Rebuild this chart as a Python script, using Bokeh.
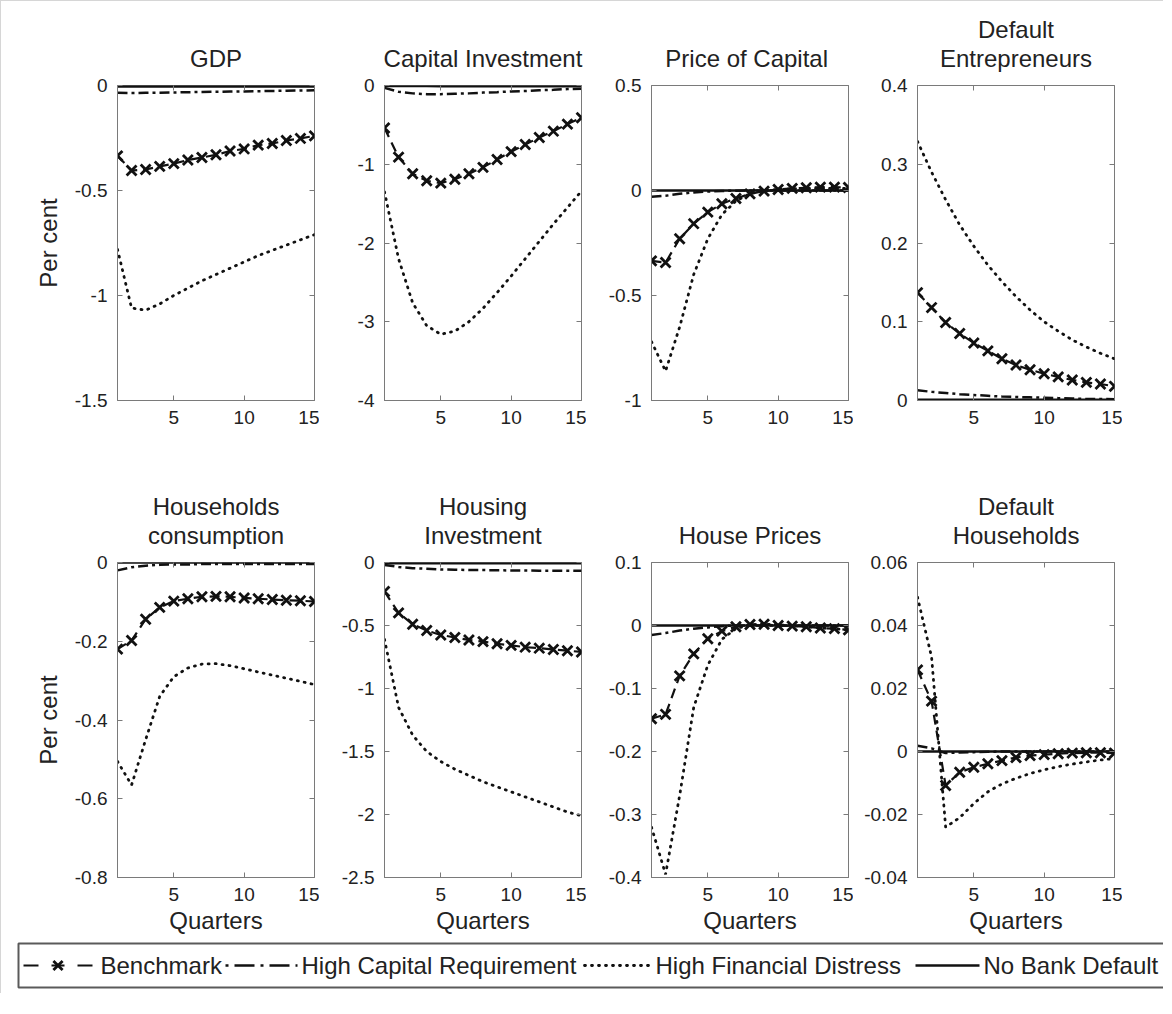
from bokeh.plotting import figure
from bokeh.models import (Range1d, FixedTicker, CustomJSTickFormatter, LinearAxis,
                          Title, ColumnDataSource)
from bokeh.layouts import column, row
from bokeh.embed import file_html
from bokeh.resources import INLINE
from bokeh.core.properties import value

# ---------------- data ----------------
quarters = [1, 2, 3, 4, 5, 6, 7, 8, 9, 10, 11, 12, 13, 14, 15]
series_names = ["Benchmark", "High Capital Requirement", "High Financial Distress", "No Bank Default"]
x_ticks = [5, 10, 15]

# GDP
gdp_bm = [-0.335, -0.405, -0.40, -0.385, -0.372, -0.355, -0.343, -0.33, -0.312, -0.302, -0.284, -0.276, -0.262, -0.252, -0.24]
gdp_hcr = [-0.035, -0.036, -0.035, -0.034, -0.033, -0.032, -0.031, -0.030, -0.029, -0.028, -0.027, -0.026, -0.025, -0.024, -0.023]
gdp_hfd = [-0.78, -1.06, -1.07, -1.04, -1.0, -0.965, -0.93, -0.9, -0.87, -0.84, -0.81, -0.785, -0.76, -0.735, -0.71]
gdp_nbd = [-0.004, -0.004, -0.004, -0.004, -0.004, -0.004, -0.004, -0.004, -0.004, -0.004, -0.004, -0.004, -0.004, -0.004, -0.004]

# Capital Investment
ci_bm = [-0.54, -0.91, -1.12, -1.21, -1.24, -1.19, -1.12, -1.04, -0.94, -0.84, -0.75, -0.66, -0.58, -0.49, -0.41]
ci_hcr = [-0.03, -0.08, -0.10, -0.11, -0.11, -0.105, -0.10, -0.09, -0.085, -0.075, -0.07, -0.06, -0.055, -0.045, -0.04]
ci_hfd = [-1.35, -2.2, -2.76, -3.05, -3.16, -3.12, -3.0, -2.83, -2.63, -2.42, -2.2, -1.98, -1.76, -1.55, -1.34]
ci_nbd = [-0.005, -0.006, -0.007, -0.007, -0.008, -0.008, -0.008, -0.009, -0.009, -0.009, -0.01, -0.01, -0.01, -0.01, -0.01]

# Price of Capital
pk_bm = [-0.335, -0.343, -0.23, -0.158, -0.103, -0.063, -0.038, -0.016, -0.003, 0.005, 0.01, 0.013, 0.016, 0.016, 0.014]
pk_hcr = [-0.03, -0.025, -0.016, -0.009, -0.005, -0.002, -0.001, 0.0, 0.0, 0.0, 0.0, 0.0, 0.0, 0.0, 0.0]
pk_hfd = [-0.72, -0.86, -0.65, -0.40, -0.23, -0.115, -0.05, -0.015, 0.0, 0.005, 0.008, 0.01, 0.01, 0.01, 0.01]
pk_nbd = [0.0, 0.0, 0.0, 0.0, 0.0, 0.0, 0.0, 0.0, 0.0, 0.0, 0.0, 0.0, 0.0, 0.0, 0.0]

# Default Entrepreneurs
de_bm = [0.137, 0.118, 0.099, 0.085, 0.073, 0.063, 0.053, 0.045, 0.039, 0.034, 0.030, 0.026, 0.023, 0.021, 0.018]
de_hcr = [0.013, 0.011, 0.0095, 0.008, 0.007, 0.006, 0.005, 0.0045, 0.004, 0.0035, 0.003, 0.0025, 0.002, 0.002, 0.0015]
de_hfd = [0.329, 0.29, 0.255, 0.223, 0.196, 0.172, 0.151, 0.132, 0.115, 0.1, 0.088, 0.077, 0.068, 0.06, 0.053]
de_nbd = [0.001, 0.001, 0.001, 0.001, 0.001, 0.001, 0.001, 0.001, 0.001, 0.001, 0.001, 0.001, 0.001, 0.001, 0.001]

# Households consumption
hc_bm = [-0.22, -0.198, -0.144, -0.114, -0.098, -0.092, -0.087, -0.086, -0.087, -0.09, -0.092, -0.094, -0.096, -0.097, -0.099]
hc_hcr = [-0.02, -0.012, -0.008, -0.006, -0.005, -0.005, -0.004, -0.004, -0.004, -0.004, -0.004, -0.004, -0.004, -0.004, -0.004]
hc_hfd = [-0.505, -0.565, -0.45, -0.34, -0.29, -0.268, -0.258, -0.257, -0.262, -0.27, -0.278, -0.286, -0.294, -0.302, -0.31]
hc_nbd = [0.0, 0.0, 0.0, 0.0, 0.0, 0.0, 0.0, 0.0, 0.0, 0.0, 0.0, 0.0, 0.0, 0.0, 0.0]

# Housing Investment
hi_bm = [-0.23, -0.40, -0.49, -0.54, -0.575, -0.595, -0.615, -0.628, -0.645, -0.658, -0.672, -0.68, -0.69, -0.70, -0.71]
hi_hcr = [-0.02, -0.035, -0.045, -0.05, -0.055, -0.057, -0.06, -0.06, -0.062, -0.063, -0.064, -0.065, -0.065, -0.066, -0.066]
hi_hfd = [-0.61, -1.15, -1.37, -1.5, -1.58, -1.64, -1.69, -1.74, -1.78, -1.82, -1.86, -1.9, -1.94, -1.98, -2.01]
hi_nbd = [-0.005, -0.005, -0.005, -0.005, -0.005, -0.005, -0.005, -0.005, -0.005, -0.005, -0.005, -0.005, -0.005, -0.005, -0.005]

# House Prices
hp_bm = [-0.148, -0.141, -0.08, -0.045, -0.021, -0.009, -0.002, 0.0015, 0.002, 0.0, -0.001, -0.002, -0.004, -0.005, -0.007]
hp_hcr = [-0.015, -0.012, -0.008, -0.005, -0.003, -0.001, 0.0, 0.0, 0.0, 0.0, 0.0, 0.0, 0.0, 0.0, 0.0]
hp_hfd = [-0.32, -0.395, -0.27, -0.13, -0.063, -0.022, -0.005, 0.001, 0.002, 0.001, 0.0, -0.002, -0.004, -0.005, -0.007]
hp_nbd = [0.0, 0.0, 0.0, 0.0, 0.0, 0.0, 0.0, 0.0, 0.0, 0.0, 0.0, 0.0, 0.0, 0.0, 0.0]

# Default Households
dh_bm = [0.0259, 0.016, -0.0108, -0.0066, -0.005, -0.0039, -0.0029, -0.0019, -0.0013, -0.001, -0.0007, -0.0005, -0.0004, -0.0004, -0.0005]
dh_hcr = [0.0018, 0.001, -0.0005, -0.0003, -0.0002, -0.0001, 0.0, 0.0, 0.0, 0.0, 0.0, 0.0, 0.0, 0.0, 0.0]
dh_hfd = [0.049, 0.03, -0.024, -0.021, -0.0165, -0.0128, -0.0103, -0.0085, -0.007, -0.0058, -0.0048, -0.004, -0.0033, -0.0027, -0.0022]
dh_nbd = [0.0, 0.0, 0.0, 0.0, 0.0, 0.0, 0.0, 0.0, 0.0, 0.0, 0.0, 0.0, 0.0, 0.0, 0.0]

panel_titles = [["GDP"], ["Capital Investment"], ["Price of  Capital"], ["Default", "Entrepreneurs"],
                ["Households", "consumption"], ["Housing", "Investment"], ["House Prices"], ["Default", "Households"]]
y_limits = [(-1.5, 0), (-4, 0), (-1, 0.5), (0, 0.4), (-0.8, 0), (-2.5, 0), (-0.4, 0.1), (-0.04, 0.06)]
y_ticks = [[-1.5, -1, -0.5, 0], [-4, -3, -2, -1, 0], [-1, -0.5, 0, 0.5], [0, 0.1, 0.2, 0.3, 0.4],
           [-0.8, -0.6, -0.4, -0.2, 0], [-2.5, -2, -1.5, -1, -0.5, 0], [-0.4, -0.3, -0.2, -0.1, 0, 0.1],
           [-0.04, -0.02, 0, 0.02, 0.04, 0.06]]
panel_data = [(gdp_bm, gdp_hcr, gdp_hfd, gdp_nbd), (ci_bm, ci_hcr, ci_hfd, ci_nbd),
              (pk_bm, pk_hcr, pk_hfd, pk_nbd), (de_bm, de_hcr, de_hfd, de_nbd),
              (hc_bm, hc_hcr, hc_hfd, hc_nbd), (hi_bm, hi_hcr, hi_hfd, hi_nbd),
              (hp_bm, hp_hcr, hp_hfd, hp_nbd), (dh_bm, dh_hcr, dh_hfd, dh_nbd)]

# ---------------- styling ----------------
FONT = "Liberation Sans"
INK = "#111111"
TXT = "#222222"
FRAME = "#7a7a7a"
STYLES = [dict(line_dash="10 6", line_width=2.2),
          dict(line_dash="10 4 3 4", line_width=2.5),
          dict(line_dash="1 6", line_width=2.8, line_cap="round"),
          dict(line_dash="solid", line_width=2.6)]

fmt = CustomJSTickFormatter(code="return String(+tick.toFixed(6));")

FRAME_W, FRAME_H = 197, 315
LEFT_B = [116, 65, 65, 64]
RIGHT_B = [5, 5, 5, 8]


def style_axis(ax, ticks, show_labels=True):
    ax.ticker = FixedTicker(ticks=ticks)
    ax.axis_line_color = FRAME
    ax.major_tick_line_color = FRAME
    ax.major_tick_in = 5
    ax.major_tick_out = 0
    ax.minor_tick_line_color = None
    if show_labels:
        ax.major_label_text_font = FONT
        ax.major_label_text_font_size = "19px"
        ax.major_label_text_color = TXT
        ax.major_label_standoff = 10
    else:
        ax.major_label_text_font_size = "0px"
        ax.major_label_text_color = None
        ax.major_label_standoff = 0
        ax.axis_line_color = None


def make_panel(i):
    col, rw = i % 4, i // 4
    lo, hi = y_limits[i]
    p = figure(frame_width=FRAME_W, frame_height=FRAME_H, x_range=Range1d(1, 15), y_range=Range1d(lo, hi),
               output_backend="svg", toolbar_location=None, title=None,
               min_border_left=LEFT_B[col], min_border_right=RIGHT_B[col],
               min_border_top=84 if rw == 0 else 122, min_border_bottom=40 if rw == 0 else 62)
    p.outline_line_color = FRAME
    p.outline_line_width = 1
    p.xgrid.visible = False
    p.ygrid.visible = False
    p.background_fill_color = "white"
    p.border_fill_color = "white"
    style_axis(p.xaxis[0], x_ticks)
    style_axis(p.yaxis[0], y_ticks[i])
    p.yaxis[0].formatter = fmt
    if col == 0:
        p.yaxis[0].axis_label = "Per cent"
        p.yaxis[0].axis_label_text_font = FONT
        p.yaxis[0].axis_label_text_font_size = "24px"
        p.yaxis[0].axis_label_text_font_style = "normal"
        p.yaxis[0].axis_label_text_color = TXT
        p.yaxis[0].axis_label_standoff = 10
    if rw == 1:
        p.xaxis[0].axis_label = "Quarters"
        p.xaxis[0].axis_label_text_font = FONT
        p.xaxis[0].axis_label_text_font_size = "24px"
        p.xaxis[0].axis_label_text_font_style = "normal"
        p.xaxis[0].axis_label_text_color = TXT
        p.xaxis[0].axis_label_standoff = 3
    top_ax = LinearAxis()
    style_axis(top_ax, x_ticks, show_labels=False)
    p.add_layout(top_ax, "above")
    right_ax = LinearAxis()
    style_axis(right_ax, y_ticks[i], show_labels=False)
    p.add_layout(right_ax, "right")
    for k, line in enumerate(reversed(panel_titles[i])):
        t = Title(text=line, align="center", text_font=FONT, text_font_size="24px",
                  text_font_style="normal", text_color=TXT, standoff=27 if k == 0 else -26)
        p.add_layout(t, "above")

    bm, hcr, hfd, nbd = panel_data[i]
    src = ColumnDataSource(dict(q=quarters, bm=bm, hcr=hcr, hfd=hfd, nbd=nbd))
    for key, st in zip(["bm", "hcr", "hfd", "nbd"], STYLES):
        p.line("q", key, source=src, line_color=INK, **st)
    p.scatter("q", "bm", source=src, marker="x", size=14, line_color=INK, line_width=2.8)
    return p


panels = [make_panel(i) for i in range(8)]

# ---------------- legend strip ----------------
LG_W, LG_H = 1162, 54
lg = figure(width=LG_W, height=LG_H, x_range=Range1d(0, LG_W), y_range=Range1d(0, LG_H),
            output_backend="svg", toolbar_location=None, title=None,
            x_axis_location=None, y_axis_location=None, min_border=0)
lg.grid.visible = False
lg.outline_line_color = None
lg.background_fill_color = "white"
lg.border_fill_color = "white"
lg.quad(left=[17], right=[1400], bottom=[6], top=[50], fill_color="white",
        line_color="#5a5a5a", line_width=2)
sample_x = [(22, 91), (224, 296), (583, 647), (914, 978)]
text_x = [99, 300, 654, 982]
legend_dash = ["15 13 13 13 15", "3 6 20 6", "1 6", "solid"]
for (x0, x1), st, dash in zip(sample_x, STYLES, legend_dash):
    st2 = dict(st)
    st2["line_dash"] = dash
    lg.line([x0, x1], [28, 28], line_color=INK, **st2)
lg.scatter([56.5], [28], marker="x", size=13, line_color=INK, line_width=2.8)
lg.text(x=text_x, y=[28, 28, 28, 28], text=series_names, text_baseline="middle",
        text_font=value(FONT), text_font_size="24px", text_color=TXT)

layout = column(row(panels[:4]), row(panels[4:]), lg,
                styles={"border-left": "1px solid #d6d6d6", "border-top": "1px solid #d6d6d6"})
open("out.html", "w").write(file_html(layout, INLINE))
